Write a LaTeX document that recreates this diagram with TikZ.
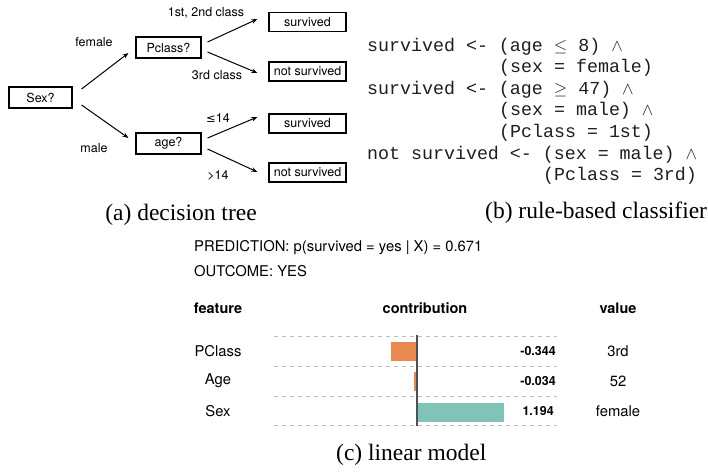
\documentclass[tikz,border=0pt]{standalone}
\usepackage{fontspec}
\setmainfont{Liberation Serif}
\newfontfamily\hv{TeX Gyre Heros}
\newfontfamily\monof{Liberation Mono}
\newfontfamily\djv{DejaVu Sans}
\usetikzlibrary{arrows.meta}
\definecolor{barorange}{RGB}{233,137,80}
\definecolor{barteal}{RGB}{127,196,183}
\definecolor{dashgray}{RGB}{190,190,190}
\definecolor{axisgray}{RGB}{80,80,80}
\definecolor{monotext}{RGB}{30,30,30}
\begin{document}
\begin{tikzpicture}[x=1pt,y=-1pt,
  treebox/.style={draw,line width=1.1pt,inner sep=0pt,minimum height=21pt,font=\hv\fontsize{12.5}{14}\selectfont},
  leafbox/.style={treebox,minimum width=77pt,minimum height=19pt},
  treelbl/.style={inner sep=0pt,font=\hv\fontsize{12.5}{14}\selectfont},
  arr/.style={line width=1pt,-{Stealth[length=6pt,width=4.5pt]}},
  rule/.style={inner sep=0pt,anchor=base west,text=monotext,font=\monof\fontsize{18.3}{21}\selectfont},
  capt/.style={inner sep=0pt,font=\fontsize{23.5}{26}\selectfont},
  chart/.style={inner sep=0pt,font=\hv\fontsize{14.8}{16}\selectfont},
  charthead/.style={inner sep=0pt,font=\hv\bfseries\fontsize{14.5}{16}\selectfont},
  val/.style={inner sep=0pt,anchor=east,font=\hv\bfseries\fontsize{12.5}{14}\selectfont},
  gridline/.style={dashgray,line width=0.9pt,dash pattern=on 4pt off 4pt}
]
\useasboundingbox (0,0) rectangle (708,475);
% ---------- (a) decision tree ----------
\node[treebox,minimum width=63pt] (sex) at (40.5,97.5) {Sex?};
\node[treebox,minimum width=65pt] (pclass) at (168.5,47.5) {Pclass?};
\node[treebox,minimum width=65pt] (age) at (168.5,143.5) {age?};
\node[leafbox] (s1) at (307.5,22) {survived};
\node[leafbox] (n1) at (307.5,71.5) {not survived};
\node[leafbox] (s2) at (307.5,123.5) {survived};
\node[leafbox] (n2) at (307.5,172.5) {not survived};
\draw[arr] ([xshift=9,yshift=8.5]sex.east) -- ([xshift=-7,yshift=-5.5]pclass.west);
\draw[arr] ([xshift=9,yshift=-7.5]sex.east) -- ([xshift=-7,yshift=5.5]age.west);
\draw[arr] ([xshift=6,yshift=5.5]pclass.east) -- ([xshift=-11,yshift=3]s1.west);
\draw[arr] ([xshift=6,yshift=-4.5]pclass.east) -- ([xshift=-11,yshift=-1.5]n1.west);
\draw[arr] ([xshift=6,yshift=5.5]age.east) -- ([xshift=-11,yshift=6.5]s2.west);
\draw[arr] ([xshift=6,yshift=-5.5]age.east) -- ([xshift=-11,yshift=0.5]n2.west);
\node[treelbl] (lfemale) at (94,42) {female};
\node[treelbl] (lmale) at (94,148) {male};
\node[treelbl] (l12) at (206,13) {1st, 2nd class};
\node[treelbl] (l3) at (217,75) {3rd class};
\node[treelbl] (lle) at (218,118) {{\djv\fontsize{11.5}{14}\selectfont ≤}14};
\node[treelbl] (lgt) at (218,175) {>14};
\node[capt] (capa) at (181,215) {(a) decision tree};
% ---------- (b) rule-based classifier ----------
\node[rule] (r1) at (367,51) {survived <- (age $\leq$ 8) $\wedge$};
\node[rule] (r2) at (499,72.6) {(sex = female)};
\node[rule] (r3) at (367,94.2) {survived <- (age $\geq$ 47) $\wedge$};
\node[rule] (r4) at (499,115.8) {(sex = male) $\wedge$};
\node[rule] (r5) at (499,137.4) {(Pclass = 1st)};
\node[rule] (r6) at (367,159) {not survived <- (sex = male) $\wedge$};
\node[rule] (r7) at (543,180.6) {(Pclass = 3rd)};
\node[capt,anchor=west] (capb) at (485,213) {(b) rule-based classifier};
% ---------- (c) linear model ----------
\node[chart,anchor=west] (pred) at (194,248) {PREDICTION: p(survived = yes | X) = 0.671};
\node[chart,anchor=west] (outc) at (194,271) {OUTCOME: YES};
\node[charthead] (hfeat) at (218,308) {feature};
\node[charthead] (hcontr) at (425,308) {contribution};
\node[charthead] (hval) at (618,308) {value};
\foreach \yy in {336,366,396,425} \draw[gridline] (274,\yy) -- (557,\yy);
\fill[barorange] (391,342) rectangle (417,361);
\fill[barorange] (413.5,372) rectangle (417,391);
\fill[barteal] (417,403) rectangle (504,422);
\draw[axisgray,line width=1.1pt] (417,335) -- (417,426);
\node[chart] (fp) at (218,351) {PClass};
\node[chart] (fa) at (218,381) {Age};
\node[chart] (fs) at (218,411) {Sex};
\node[val] (vp) at (556,351) {-0.344};
\node[val] (va) at (556,381) {-0.034};
\node[val] (vs) at (554,411) {1.194};
\node[chart] (xp) at (618,351) {3rd};
\node[chart] (xa) at (618,381) {52};
\node[chart] (xs) at (618,411) {female};
\node[capt,anchor=west] (capc) at (336,455) {(c) linear model};
\end{tikzpicture}
\end{document}
